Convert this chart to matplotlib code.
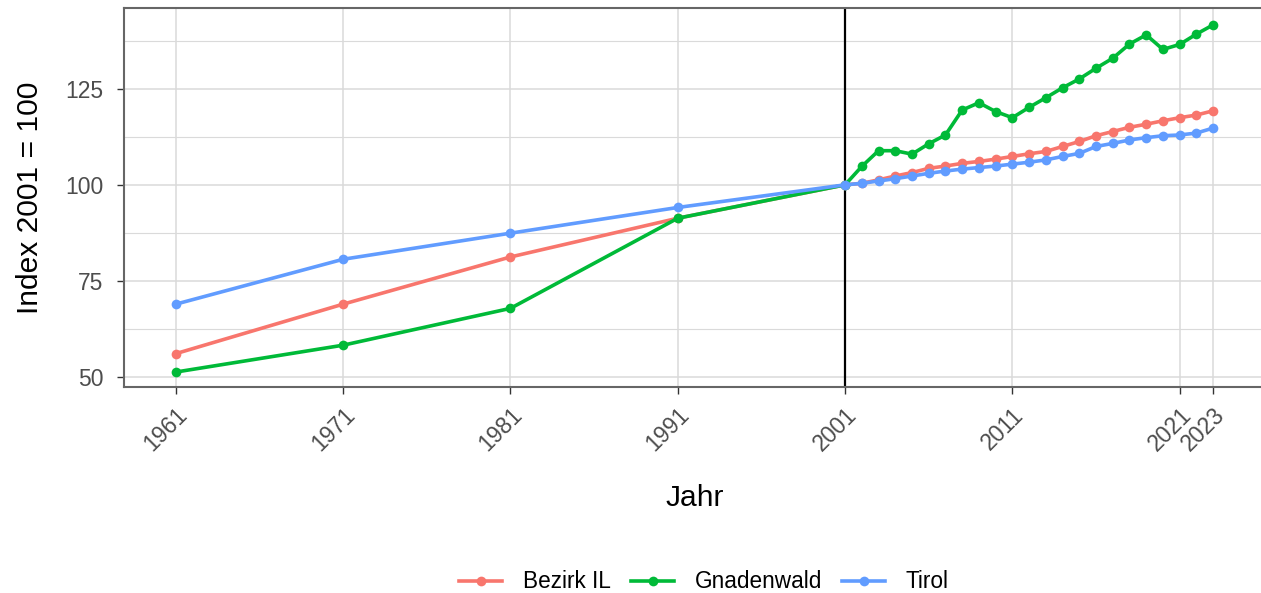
import matplotlib
matplotlib.use("Agg")
import matplotlib.pyplot as plt
from matplotlib.ticker import FixedLocator

plt.rcParams['font.family'] = ['Liberation Sans', 'DejaVu Sans']

years = [1961, 1971, 1981, 1991] + list(range(2001, 2024))

bezirk_il = [56.0, 68.9, 81.2, 91.3,
             100.0, 100.4, 101.3, 102.3, 103.2, 104.3, 104.9, 105.6, 106.1, 106.7,
             107.4, 108.1, 108.7, 110.0, 111.3, 112.8, 113.9, 115.0, 115.8, 116.7,
             117.5, 118.2, 119.3]
gnadenwald = [51.2, 58.2, 67.8, 91.3,
              100.0, 104.8, 108.9, 108.9, 108.0, 110.7, 113.0, 119.5, 121.4, 119.1,
              117.5, 120.2, 122.7, 125.3, 127.6, 130.4, 133.0, 136.7, 139.1, 135.3,
              136.6, 139.3, 141.7]
tirol = [68.9, 80.6, 87.4, 94.1,
         100.0, 100.4, 101.0, 101.6, 102.3, 103.0, 103.6, 104.1, 104.5, 104.9,
         105.4, 105.9, 106.5, 107.4, 108.2, 110.0, 110.8, 111.7, 112.3, 112.8,
         113.0, 113.5, 114.8]

series_names = ["Bezirk IL", "Gnadenwald", "Tirol"]
series_values = [bezirk_il, gnadenwald, tirol]
colors = ["#F8766D", "#00BA38", "#619CFF"]

x_breaks = [1961, 1971, 1981, 1991, 2001, 2011, 2021, 2023]
y_breaks = [50, 75, 100, 125]
y_minor = [62.5, 87.5, 112.5, 137.5]

W, H = 1261, 593
fig = plt.figure(figsize=(W / 100, H / 100), dpi=100)
left, right, top, bottom = 124, 1265, 8, 387
ax = fig.add_axes([left / W, 1 - bottom / H, (right - left) / W, (bottom - top) / H])

grid_col = "#DADADA"
for yb in y_breaks:
    ax.axhline(yb, color=grid_col, lw=1.1, zorder=0)
for yb in y_minor:
    ax.axhline(yb, color=grid_col, lw=0.8, zorder=0)
for xb in x_breaks:
    ax.axvline(xb, color=grid_col, lw=1.1, zorder=0)

ax.axvline(2001, color="black", lw=1.6, zorder=1)

for name, vals, col in zip(series_names, series_values, colors):
    ax.plot(years, vals, color=col, lw=2.6, marker="o", markersize=7,
            markeredgewidth=0, label=name, zorder=3)

ax.set_xlim(1957.9, 2026.1)
ax.set_ylim(47.3, 146.1)

ax.xaxis.set_major_locator(FixedLocator(x_breaks))
ax.yaxis.set_major_locator(FixedLocator(y_breaks))
ax.set_xticklabels([str(x) for x in x_breaks], rotation=45, ha="right",
                   rotation_mode="anchor", fontsize=16.5, color="#4D4D4D")
ax.set_yticklabels([str(y) for y in y_breaks], fontsize=16.5, color="#4D4D4D")
ax.tick_params(axis="both", length=5, width=1, color="#333333")
ax.tick_params(axis="y", pad=10)
ax.tick_params(axis="x", pad=7)

for s in ["left", "bottom", "top", "right"]:
    ax.spines[s].set_color("#666666")
    ax.spines[s].set_linewidth(1.5)

ax.set_xlabel("Jahr", fontsize=21.6, labelpad=20)
ax.set_ylabel("Index 2001 = 100", fontsize=21.6, labelpad=15)

handles, labels = ax.get_legend_handles_labels()
fig.legend(handles, labels, loc="center", bbox_to_anchor=(704 / W, 1 - 582 / H),
           ncol=3, frameon=False, fontsize=16.3, handlelength=1.9,
           handletextpad=0.9, columnspacing=0.9)

fig.savefig("out.png", dpi=100)
